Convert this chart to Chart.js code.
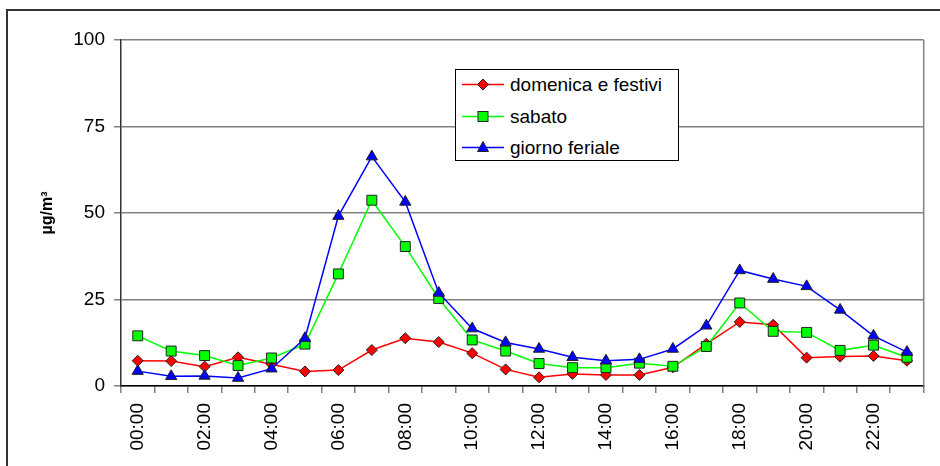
<!DOCTYPE html>
<html>
<head>
<meta charset="utf-8">
<script src="https://cdn.jsdelivr.net/npm/chart.js@4/dist/chart.umd.min.js"></script>
<style>
    body { margin: 0; background: #fff; }
    #wrap { position: relative; width: 940px; height: 466px; overflow: hidden; }
    #legend {
        position: absolute; left: 455px; top: 69px; width: 222px; height: 90px;
        border: 1px solid #000; background: #fff;
        font-family: "Liberation Sans", Arial, sans-serif; font-size: 19px; color: #000;
    }
    .item { position: absolute; left: 6px; height: 24px; display: flex; align-items: center; }
    .item svg { margin-right: 6px; }
</style>
</head>
<body>
<div id="wrap">
    <canvas id="chart" width="940" height="466"></canvas>
    <div id="legend"></div>
</div>
<script>
const hours = ['00:00', '01:00', '02:00', '03:00', '04:00', '05:00', '06:00', '07:00', '08:00', '09:00', '10:00', '11:00',
    '12:00', '13:00', '14:00', '15:00', '16:00', '17:00', '18:00', '19:00', '20:00', '21:00', '22:00', '23:00'];
const domenica = [7.3, 7.2, 5.6, 8.3, 6.3, 4.2, 4.6, 10.4, 13.8, 12.7, 9.5, 4.8, 2.5, 3.5, 3.2, 3.2, 5.4, 12.2, 18.5, 17.7, 8.2, 8.5, 8.7, 7.3];
const sabato = [14.5, 10.1, 8.8, 5.9, 8.1, 12.1, 32.4, 53.7, 40.3, 25.3, 13.3, 10.1, 6.5, 5.3, 5.3, 6.6, 5.7, 11.4, 24.0, 15.8, 15.5, 10.3, 11.8, 8.3];
const feriale = [4.3, 2.8, 2.9, 2.3, 5.0, 13.8, 49.1, 66.3, 53.2, 26.9, 16.6, 12.6, 10.7, 8.3, 7.3, 7.7, 10.7, 17.4, 33.4, 30.9, 28.8, 22.0, 14.5, 9.8];
const yTicks = [0, 25, 50, 75, 100];

const seriesNames = ['domenica e festivi', 'sabato', 'giorno feriale'];
const seriesColors = ['#ff0000', '#00ff00', '#0000ff'];
const seriesShapes = ['rectRot', 'rect', 'triangle'];
const seriesRadius = [5.5, 7, 6.5];

const font = "'Liberation Sans', Arial, sans-serif";

// white background, outer frame and right border of plot area
const framePlugin = {
    id: 'frame',
    beforeDraw(chart) {
        const ctx = chart.ctx;
        ctx.save();
        ctx.fillStyle = '#fff';
        ctx.fillRect(0, 0, chart.width, chart.height);
        ctx.strokeStyle = '#333';
        ctx.lineWidth = 2;
        ctx.strokeRect(7, 10, 1000, 1000);
        ctx.restore();
    },
    afterDatasetsDraw(chart) {
        const a = chart.chartArea;
        const ctx = chart.ctx;
        ctx.save();
        ctx.strokeStyle = '#808080';
        ctx.lineWidth = 1.5;
        ctx.beginPath();
        ctx.moveTo(a.right, a.top);
        ctx.lineTo(a.right, a.bottom);
        ctx.stroke();
        ctx.restore();
    }
};

const values = [domenica, sabato, feriale];
const datasets = values.map((v, i) => ({
    label: seriesNames[i],
    data: v,
    borderColor: seriesColors[i],
    borderWidth: 1.5,
    backgroundColor: seriesColors[i],
    pointStyle: seriesShapes[i],
    pointRadius: seriesRadius[i],
    pointBorderColor: '#222',
    pointBorderWidth: 1,
    pointBackgroundColor: seriesColors[i],
    tension: 0,
    order: 3 - i
}));

new Chart(document.getElementById('chart').getContext('2d'), {
    type: 'line',
    data: { labels: hours, datasets: datasets },
    options: {
        responsive: false,
        animation: false,
        layout: { padding: { top: 40, right: 11, left: 0, bottom: 0 } },
        plugins: { legend: { display: false }, tooltip: { enabled: false } },
        scales: {
            x: {
                offset: true,
                grid: { offset: true, drawOnChartArea: false, tickLength: 7, color: '#808080', lineWidth: 1.5 },
                border: { color: '#000', width: 1.5 },
                ticks: {
                    autoSkip: false, minRotation: 90, maxRotation: 90, padding: 10, color: '#000',
                    font: { family: font, size: 19 },
                    callback: (val, i) => i % 2 === 0 ? hours[i] : ''
                },
                afterFit: s => { s.height = 80; }
            },
            y: {
                min: 0, max: 100,
                afterBuildTicks: s => { s.ticks = yTicks.map(v => ({ value: v })); },
                grid: { color: '#808080', lineWidth: 1.5, tickLength: 7 },
                border: { color: '#333', width: 1.5 },
                ticks: { padding: 9, color: '#000', font: { family: font, size: 19 } },
                title: {
                    display: true, text: 'µg/m³', color: '#000',
                    font: { family: font, size: 16, weight: 'bold' },
                    padding: { top: 38, bottom: 0 }
                },
                afterFit: s => { s.width = 121; }
            }
        }
    },
    plugins: [framePlugin]
});

// legend box placed inside the plot like the original
const legend = document.getElementById('legend');
const rowTops = [3, 35, 66];
seriesNames.forEach((name, i) => {
    let shape;
    if (seriesShapes[i] === 'rectRot') shape = '<polygon points="21,6 26.5,11.5 21,17 15.5,11.5" />';
    else if (seriesShapes[i] === 'rect') shape = '<rect x="16" y="6.5" width="10" height="10" />';
    else shape = '<polygon points="21,5.5 26.5,15.5 15.5,15.5" />';
    const div = document.createElement('div');
    div.className = 'item';
    div.style.top = rowTops[i] + 'px';
    div.innerHTML = '<svg width="42" height="24"><line x1="0" y1="11.5" x2="42" y2="11.5" stroke="' + seriesColors[i] +
        '" stroke-width="1.5"/><g fill="' + seriesColors[i] + '" stroke="#222" stroke-width="1">' + shape + '</g></svg>' +
        '<span>' + name + '</span>';
    legend.appendChild(div);
});
</script>
</body>
</html>
